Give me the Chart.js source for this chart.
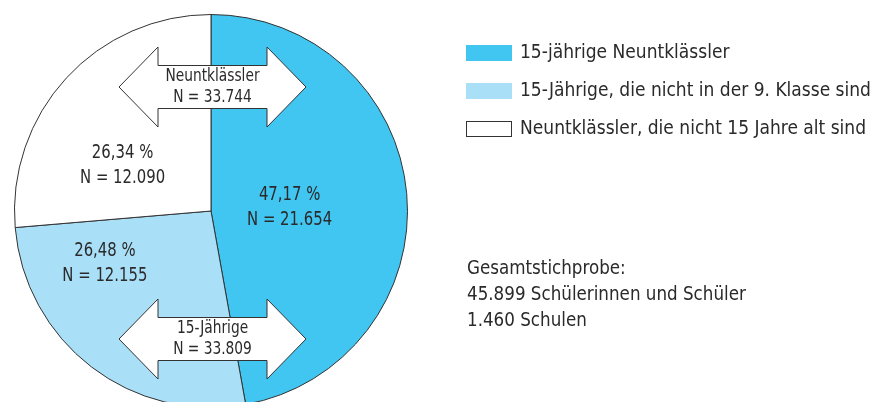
<!DOCTYPE html>
<html><head><meta charset="utf-8">
<script src="https://cdn.jsdelivr.net/npm/chart.js@4"></script>
<style>
html,body{margin:0;padding:0;background:#fff;overflow:hidden;width:873px;height:402px}
#wrap{position:absolute;left:0;top:0;width:873px;height:430px}
</style></head><body>
<div id="wrap"><canvas id="c" width="873" height="430"></canvas></div>
<script>
const categories = ['15-jährige Neuntklässler', '15-Jährige, die nicht in der 9. Klasse sind', 'Neuntklässler, die nicht 15 Jahre alt sind'];
const percentages = [47.17, 26.48, 26.34];
const percentLabels = ['47,17 %', '26,48 %', '26,34 %'];
const countLabels = ['N = 21.654', 'N = 12.155', 'N = 12.090'];
const groupTop = ['Neuntklässler', 'N = 33.744'];
const groupBottom = ['15-Jährige', 'N = 33.809'];
const noteLines = ['Gesamtstichprobe:', '45.899 Schülerinnen und Schüler', '1.460 Schulen'];

const colors = ['#41c5f1', '#aadff8', '#ffffff'];
const FONT = '"Liberation Sans Narrow","DejaVu Sans Condensed","Roboto Condensed",Arial,sans-serif';
const TXT = '#2a2a2a';

function text(ctx, str, x, y, size, sx, align) {
  ctx.save();
  ctx.font = size + 'px ' + FONT;
  ctx.textAlign = align || 'center';
  ctx.textBaseline = 'middle';
  ctx.fillStyle = TXT;
  ctx.translate(x, y);
  ctx.scale(sx, 1);
  ctx.fillText(str, 0, 0);
  ctx.restore();
}

function arrow(ctx, cx, cy, halfLen, headLen, headHalf, shaftHalf) {
  ctx.beginPath();
  ctx.moveTo(cx - halfLen, cy);
  ctx.lineTo(cx - halfLen + headLen, cy - headHalf);
  ctx.lineTo(cx - halfLen + headLen, cy - shaftHalf);
  ctx.lineTo(cx + halfLen - headLen, cy - shaftHalf);
  ctx.lineTo(cx + halfLen - headLen, cy - headHalf);
  ctx.lineTo(cx + halfLen, cy);
  ctx.lineTo(cx + halfLen - headLen, cy + headHalf);
  ctx.lineTo(cx + halfLen - headLen, cy + shaftHalf);
  ctx.lineTo(cx - halfLen + headLen, cy + shaftHalf);
  ctx.lineTo(cx - halfLen + headLen, cy + headHalf);
  ctx.closePath();
  ctx.fillStyle = '#fff';
  ctx.fill();
  ctx.lineWidth = 1;
  ctx.strokeStyle = '#333';
  ctx.stroke();
}

const overlay = {
  id: 'overlay',
  afterDatasetsDraw(chart) {
    const ctx = chart.ctx;
    const arc = chart.getDatasetMeta(0).data[0];
    const cx = arc.x, cy = arc.y, r = arc.outerRadius;
    ctx.save();
    // slice labels
    const pos = [[0.40, -0.02], [-0.54, 0.27], [-0.45, -0.23]];
    for (let i = 0; i < 3; i++) {
      const x = cx + pos[i][0] * r, y = cy + pos[i][1] * r;
      text(ctx, percentLabels[i], x, y - 12.5, 19, 0.87);
      text(ctx, countLabels[i], x, y + 12.5, 19, 0.87);
    }
    // arrows
    const ax = cx + 1.5;
    const rows = [[cy - 124, groupTop], [cy + 128, groupBottom]];
    for (const [ay, lines] of rows) {
      arrow(ctx, ax, ay, 93.5, 39, 40, 21.5);
      text(ctx, lines[0], ax, ay - 10, 17, 0.9);
      text(ctx, lines[1], ax, ay + 10.5, 17, 0.9);
    }
    // legend
    for (let i = 0; i < 3; i++) {
      const y = 53 + i * 38;
      ctx.fillStyle = colors[i];
      ctx.fillRect(466, y - 8, 46, 16);
      if (i === 2) { ctx.strokeStyle = '#333'; ctx.lineWidth = 1; ctx.strokeRect(466.5, y - 7.5, 45, 15); }
      text(ctx, categories[i], 520, y, 19, 1.0, 'left');
    }
    // note
    noteLines.forEach((t, i) => text(ctx, t, 467, 269 + i * 26, 20, 0.93, 'left'));
    ctx.restore();
  }
};

new Chart(document.getElementById('c'), {
  type: 'pie',
  data: {
    labels: categories,
    datasets: [{ data: percentages, backgroundColor: colors, borderColor: '#333', borderWidth: 1 }]
  },
  options: {
    responsive: false,
    animation: false,
    layout: { padding: { left: 14, top: 14, right: 465, bottom: 22 } },
    plugins: { legend: { display: false }, tooltip: { enabled: false } }
  },
  plugins: [overlay]
});
</script>
</body></html>
